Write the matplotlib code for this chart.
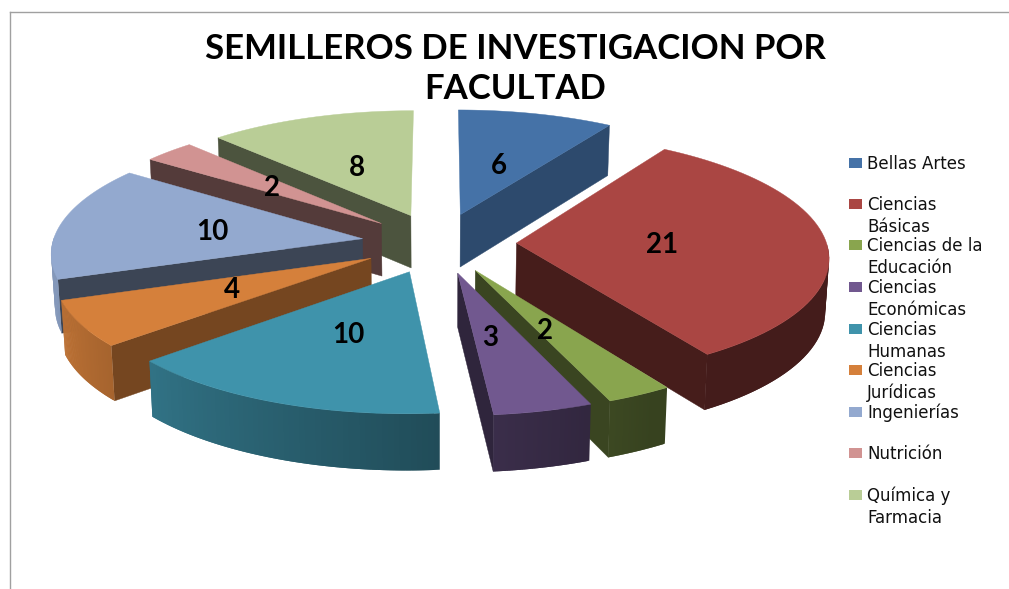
import numpy as np
from matplotlib import pyplot as plt
from matplotlib.colors import to_rgb
from matplotlib.patches import Rectangle

# data
facultades = [['Bellas Artes'], ['Ciencias', 'Básicas'], ['Ciencias de la', 'Educación'],
              ['Ciencias', 'Económicas'], ['Ciencias', 'Humanas'], ['Ciencias', 'Jurídicas'],
              ['Ingenierías'], ['Nutrición'], ['Química y', 'Farmacia']]
semilleros = [6, 21, 2, 3, 10, 4, 10, 2, 8]
titulo = 'SEMILLEROS DE INVESTIGACION POR\nFACULTAD'

# styles
top_colors = ['#4572A7', '#AA4643', '#89A54E', '#71588F', '#3F93AB', '#D5803B', '#93A9CF', '#D19392', '#B9CD96']
wall_shade = [0.65, 0.41, 0.42, 0.42, 0.42, 0.55, 0.41, 0.40, 0.41]
label_dx = [-1, -9, -8, -8, 2, 2, 1, 0, -1]
label_dy = [4, 2, 1, 0, 1, 0, 2, 2, 4]

# projection of the exploded pie, fitted by eye (pixels)
cx, cy = 439, 243
Rx, Ry = 310, 121
persp = 0.103
explode = 0.25
depth = 53


def project(u, v, low=False):
    s = 1 / (1 + persp * v)
    x = cx + Rx * u * s
    y = cy - Ry * v * s
    if low:
        x = cx + (x - cx) * 0.99
        y = y + depth * s ** 0.5
    return x, y


def slice_point(mid, ang, r):
    u = explode * np.sin(mid) + r * np.sin(ang)
    v = explode * np.cos(mid) + r * np.cos(ang)
    return u, v


def shade(color, f):
    return tuple(min(1, c * f) for c in to_rgb(color))


def arc_shade(deg):
    return np.clip(0.52 + (deg - 175) * 0.0048, 0.40, 0.90)


fig = plt.figure(figsize=(10.09, 5.89), dpi=100)
ax = fig.add_axes([0, 0, 1, 1])
ax.set_xlim(0, 1009)
ax.set_ylim(589, 0)
ax.axis('off')

# chart frame
ax.plot([10, 10], [589, 12], color='#a0a0a0', lw=1)
ax.plot([10, 1009], [12, 12], color='#a0a0a0', lw=1)

values = np.array(semilleros, dtype=float)
edges = np.concatenate([[0], np.cumsum(values)]) / values.sum() * 2 * np.pi
mids = (edges[:-1] + edges[1:]) / 2

# back slices first
for i in sorted(range(len(values)), key=lambda k: -np.cos(mids[k])):
    col = top_colors[i]
    mid = mids[i]
    angs = np.linspace(edges[i], edges[i + 1], 60)
    ou, ov = slice_point(mid, angs, 1.0)
    au, av = slice_point(mid, mid, 0.0)

    # radial walls, only the one that faces the viewer
    for ang, sign in [(edges[i], -1), (edges[i + 1], 1)]:
        eu, ev = slice_point(mid, ang, 1.0)
        normal_v = sign * -np.sin(ang)
        if normal_v < 0:
            x1, y1 = project(au, av)
            x2, y2 = project(eu, ev)
            x3, y3 = project(eu, ev, low=True)
            x4, y4 = project(au, av, low=True)
            ax.fill([x1, x2, x3, x4], [y1, y2, y3, y4], color=shade(col, wall_shade[i]), lw=0.3)

    # outer arc wall, overlapping strips for the gradient so no seams show
    for j in range(len(angs) - 1):
        if np.cos((angs[j] + angs[j + 1]) / 2) < 0:
            n = min(j + 2, len(angs) - 1)
            x1, y1 = project(ou[j], ov[j])
            x2, y2 = project(ou[j + 1:n + 1], ov[j + 1:n + 1])
            x3, y3 = project(ou[n:j:-1], ov[n:j:-1], low=True)
            x4, y4 = project(ou[j], ov[j], low=True)
            f = arc_shade(np.degrees((angs[j] + angs[j + 1]) / 2))
            ax.fill(np.concatenate([[x1], x2, x3, [x4]]), np.concatenate([[y1], y2, y3, [y4]]),
                    color=shade(col, f), lw=0)

    # top face
    tx, ty = project(np.concatenate([[au], ou]), np.concatenate([[av], ov]))
    ax.fill(tx, ty, color=col, lw=0.3)

# value labels
for i in range(len(values)):
    lu, lv = slice_point(mids[i], mids[i], 0.5)
    lx, ly = project(lu, lv)
    ax.text(lx + label_dx[i], ly + label_dy[i], str(semilleros[i]), ha='center', va='center', fontsize=20,
            fontweight='bold', family='Lato', color='black', zorder=5)

ax.text(515, 69, titulo, ha='center', va='center', fontsize=25, fontweight='bold',
        family='Lato', color='black', linespacing=1.32)

# legend
legend_y = [163, 204, 245, 287, 329, 370, 412, 453, 495]
for i, lines in enumerate(facultades):
    ax.add_patch(Rectangle((849, legend_y[i] - 5), 12.5, 10, color=top_colors[i], lw=0))
    for k, line in enumerate(lines):
        ax.text(867, legend_y[i] + k * 22 + 1, line, ha='left', va='center', fontsize=12,
                family='DejaVu Sans', color='#111111')

fig.savefig('out.png', dpi=100)
